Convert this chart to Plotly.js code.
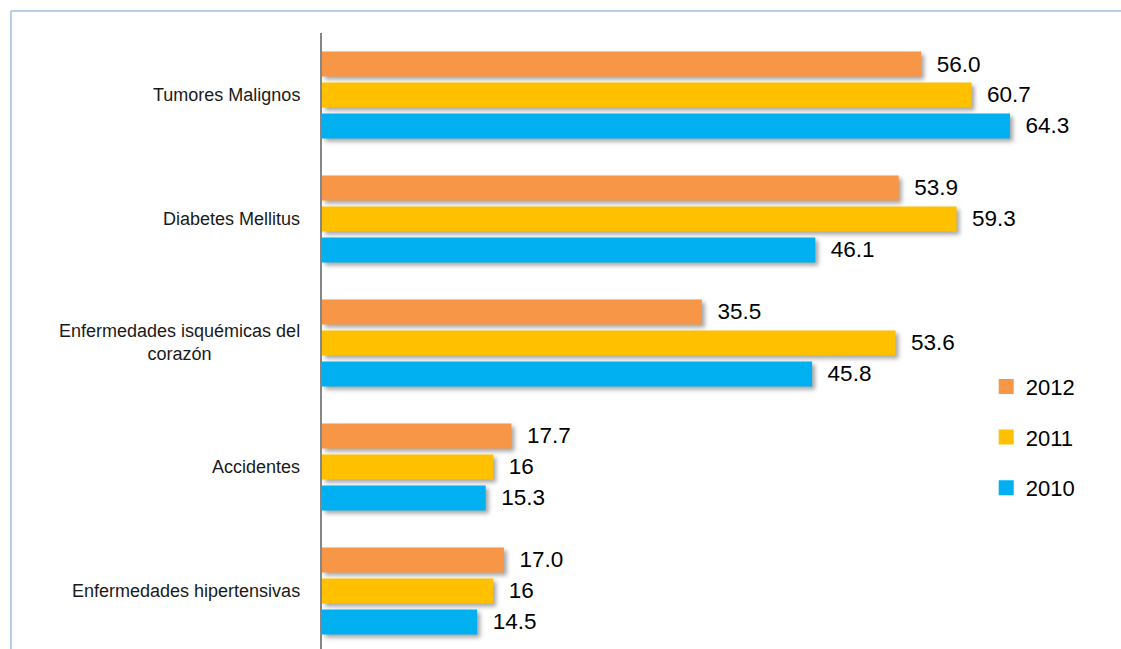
<!DOCTYPE html>
<html>
<head>
<meta charset="utf-8">
<script src="https://cdn.plot.ly/plotly-3.0.1.min.js"></script>
<style>
html,body{margin:0;padding:0;background:#fff;}
#chart{width:1121px;height:649px;}
</style>
</head>
<body>
<div id="chart"></div>
<script>
var categories = ["Tumores Malignos", "Diabetes Mellitus", "Enfermedades isquémicas del corazón", "Accidentes", "Enfermedades hipertensivas"];
var categoryLabels = ["Tumores Malignos", "Diabetes Mellitus", "Enfermedades isquémicas del<br>corazón", "Accidentes", "Enfermedades hipertensivas"];
var seriesNames = ["2012", "2011", "2010"];
var values2012 = [56.0, 53.9, 35.5, 17.7, 17.0];
var values2011 = [60.7, 59.3, 53.6, 16, 16];
var values2010 = [64.3, 46.1, 45.8, 15.3, 14.5];
var labels2012 = ["56.0", "53.9", "35.5", "17.7", "17.0"];
var labels2011 = ["60.7", "59.3", "53.6", "16", "16"];
var labels2010 = ["64.3", "46.1", "45.8", "15.3", "14.5"];
var colors = ["#F79646", "#FFC000", "#00B0F0"];

var allValues = [values2012, values2011, values2010];
var allLabels = [labels2012, labels2011, labels2010];

var traces = seriesNames.map(function(name, i){
  return {
    type: 'bar',
    orientation: 'h',
    name: name,
    legendgroup: name,
    y: categories,
    x: allValues[i],
    text: allLabels[i].map(function(t){ return '\u00a0\u00a0' + t; }),
    textposition: 'outside',
    constraintext: 'none',
    cliponaxis: false,
    textfont: {family: 'Liberation Sans, Arial, sans-serif', size: 22.5, color: '#000'},
    marker: {color: colors[i], line: {width: 0}},
    hoverinfo: 'none'
  };
});

var annotations = categories.map(function(c, i){
  return {
    xref: 'paper', yref: 'y',
    x: 0, y: c,
    xanchor: 'right', yanchor: 'middle',
    xshift: -20,
    align: 'center',
    showarrow: false,
    text: categoryLabels[i],
    font: {family: 'Liberation Sans, Arial, sans-serif', size: 18, color: '#1a1a1a'}
  };
});

var layout = {
  width: 1121, height: 649,
  margin: {l: 322, r: 20, t: 33, b: 0, pad: 0},
  paper_bgcolor: '#fff', plot_bgcolor: 'rgba(0,0,0,0)',
  barmode: 'group',
  bargap: 0.25,
  bargroupgap: 0.194,
  showlegend: true,
  legend: {
    x: 0.852, y: 0.46, xanchor: 'left', yanchor: 'top',
    traceorder: 'grouped', tracegroupgap: 19,
    font: {family: 'Liberation Sans, Arial, sans-serif', size: 22, color: '#000'},
    bgcolor: 'rgba(0,0,0,0)'
  },
  xaxis: {range: [0, 72.8], showgrid: false, zeroline: false, showticklabels: false, showline: false, ticks: ''},
  yaxis: {
    type: 'category',
    range: [4.468, -0.5],
    showgrid: false, zeroline: false, showticklabels: false, ticks: '',
    showline: true, linecolor: '#868686', linewidth: 2
  },
  annotations: annotations,
  shapes: [
    {type: 'line', xref: 'paper', yref: 'paper', x0: -0.3993, x1: 1.03, y0: 1.0357, y1: 1.0357, line: {color: '#A3BDE3', width: 1.5}, layer: 'below'},
    {type: 'line', xref: 'paper', yref: 'paper', x0: -0.3993, x1: -0.3993, y0: 1.0357, y1: -0.05, line: {color: '#A3BDE3', width: 1.5}, layer: 'below'}
  ]
};

Plotly.newPlot('chart', traces, layout, {staticPlot: true}).then(function(){
  document.querySelectorAll('.barlayer .point path').forEach(function(p){
    p.style.filter = 'drop-shadow(3px 3px 2px rgba(0,0,0,0.35))';
  });
  document.querySelectorAll('.legend .legendpoints path').forEach(function(p){
    p.setAttribute('d', 'M8,7.5H-7V-7.5H8Z');
  });
});
</script>
</body>
</html>
